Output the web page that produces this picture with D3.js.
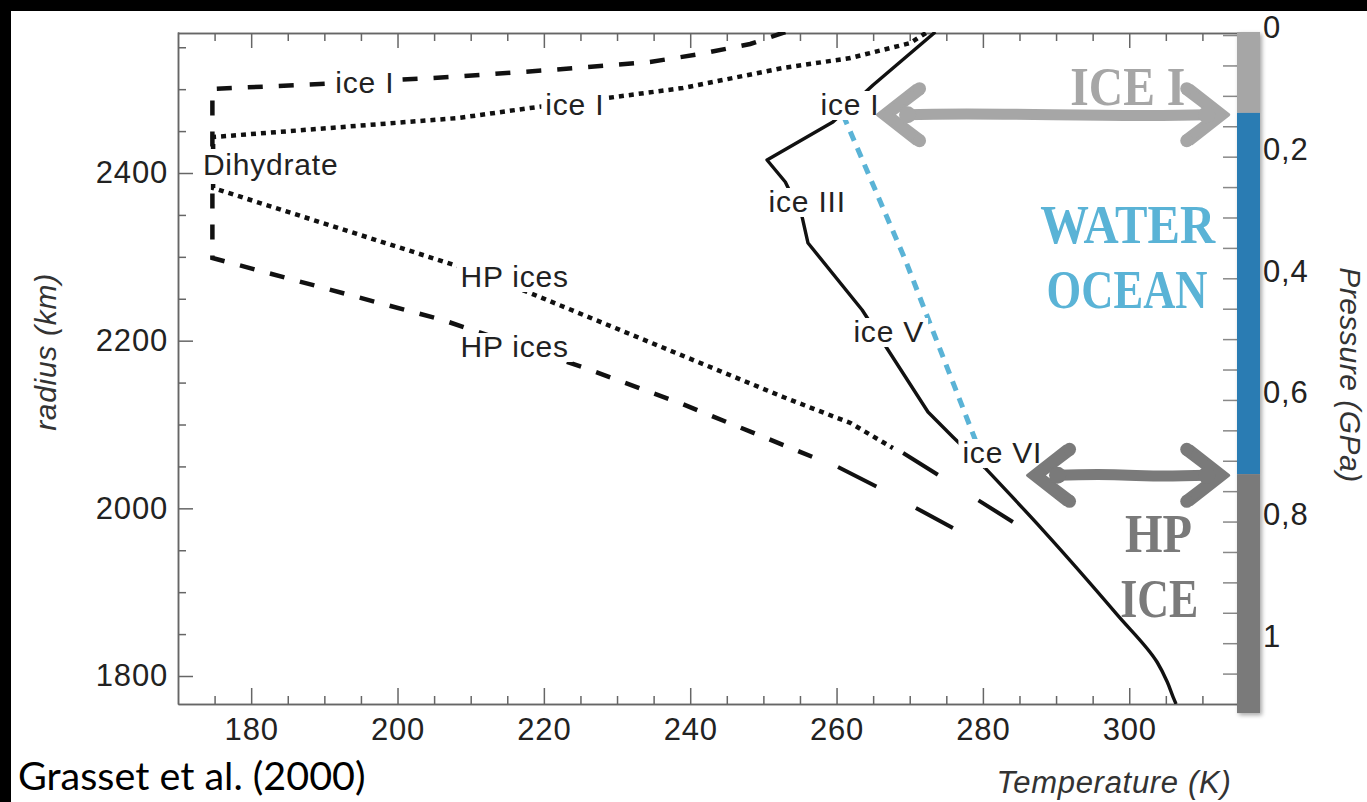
<!DOCTYPE html>
<html><head><meta charset="utf-8">
<script src="https://cdn.jsdelivr.net/npm/d3@7"></script>
<style>
html,body{margin:0;padding:0;background:#fff;}
svg{display:block;}
</style></head><body>
<svg id="chart" width="1367" height="802"></svg>
<script>
// ---------- data ----------
const tempTicks = [180, 200, 220, 240, 260, 280, 300];
const radiusTicks = [1800, 2000, 2200, 2400];
const pressureTicks = [0, 0.2, 0.4, 0.6, 0.8, 1];
const pressureTickLabels = ["0", "0,2", "0,4", "0,6", "0,8", "1"];

// melting curve of pure water ice (solid line) [T (K), radius (km)] - upper (angular) part
const meltingCurveUpper = [[273.5,2568.2],[265.0,2505.0],[259.5,2460.8],[250.5,2415.5],[253.0,2389.3],
  [255.3,2347.5],[256.1,2316.5],[263.5,2236.6],[266.6,2194.8],[272.5,2114.9],[275.9,2085.1],
  [280.3,2048.1]];
// lower (smooth) part
const meltingCurveLower = [[280.3,2048.1],[288.2,1974.1],[298.4,1872.7],[303.8,1816.7],
  [305.2,1792.8],[306.0,1774.9],[306.4,1766.6]];
// dashed profile
const dashedProfile = [[253.0,2568.2],[248.2,2553.9],[241.4,2542.0],[234.5,2532.4],[220.9,2522.9],
  [207.2,2514.5],[189.4,2506.2],[174.7,2500.2],[174.7,2298.6],[206.2,2224.6],[225.6,2167.4],
  [238.6,2125.6],[257.1,2060.0]];
const dashedTail = [[260.2,2049.3],[265.6,2025.4],[275.9,1976.5]];
// dotted profile
const dottedProfile = [[272.2,2567.0],[270.1,2555.1],[261.9,2537.2],[252.7,2525.3],[239.0,2501.4],
  [228.7,2489.5],[218.1,2477.5],[208.3,2465.6],[174.8,2442.9],[174.8,2382.1],[208.6,2287.9],
  [218.1,2256.9],[252.7,2132.8],[261.9,2101.8],[267.7,2071.9]];
const dottedTail = [[269.1,2066.0],[273.9,2039.7],[284.1,1983.7]];
// ocean adiabat (blue dotted)
const oceanAdiabat = [[260.9,2469.2],[269.4,2296.2],[279.6,2067.3]];

// phase labels [text, T, radius] (left x / baseline)
const phaseLabelText = ["ice I","ice I","Dihydrate","HP ices","HP ices","ice I","ice III","ice V","ice VI"];
const phaseLabelT    = [191.5, 220.2, 173.4, 208.6, 208.6, 257.8, 250.7, 262.3, 277.2];
const phaseLabelR    = [2495.4, 2469.2, 2397.6, 2264.0, 2180.5, 2469.2, 2353.5, 2198.4, 2054.1];

// pressure column layers [from GPa, to GPa]
const layerNamesKey = ["ice", "water", "hp"];
const layerFrom = [-0.005, 0.128, 0.722];
const layerTo   = [0.128, 0.722, 1.115];

// layer captions [text, centre T, baseline P, layer]
const captionText  = ["ICE I", "WATER", "OCEAN", "HP", "ICE"];
const captionT     = [299.8, 299.8, 299.7, 304.0, 304.1];
const captionP     = [0.115, 0.342, 0.449, 0.850, 0.957];
const captionLayer = ["ice", "water", "water", "hp", "hp"];

// double arrows at layer boundaries [P, T left tip, T right tip, layer]
const arrowP = [0.131, 0.724];
const arrowT0 = [265.6, 286.1];
const arrowT1 = [313.6, 313.6];
const arrowLayer = ["ice", "hp"];

// ---------- styles ----------
const layerColor = {ice: "#a6a6a6", water: "#2b7bb3", hp: "#7a7a7a"};
const captionColor = {ice: "#a6a6a6", water: "#5ab3d6", hp: "#7a7a7a"};
const captionWidth = [115, 175, 161, 67, 78];
const font = "'Liberation Sans', Arial, Helvetica, sans-serif";

// ---------- scales ----------
const W = 1367, H = 802;
const x = d3.scaleLinear().domain([170, 315]).range([178, 1239]);
const y = d3.scaleLinear().domain([1766.6, 2568.2]).range([704, 32]);
const p = d3.scaleLinear().domain([-0.005, 1.1]).range([32, 704]);

const svg = d3.select("#chart");
svg.append("rect").attr("width", W).attr("height", H).attr("fill", "#fff");

const defs = svg.append("defs");
defs.append("clipPath").attr("id", "plotclip").append("rect")
  .attr("x", 178).attr("y", 32).attr("width", 1061).attr("height", 672);
const sh = defs.append("filter").attr("id", "shadow").attr("x", "-50%").attr("y", "-5%").attr("width", "200%").attr("height", "110%");
sh.append("feDropShadow").attr("dx", 2).attr("dy", 2).attr("stdDeviation", 2).attr("flood-color", "#000").attr("flood-opacity", 0.35);

// ---------- axes ----------
function styleAxis(g) {
  g.selectAll(".domain").attr("stroke", "#666").attr("stroke-width", 1.5);
  g.selectAll(".tick line").attr("stroke", "#666").attr("stroke-width", 1.5);
  g.selectAll("text").attr("font-family", font).attr("font-size", 31).attr("fill", "#222").attr("letter-spacing", "0.8px");
}
const minorT = d3.range(175, 315, 5).filter(v => !tempTicks.includes(v));
const minorR = d3.range(1800, 2568, 50).filter(v => !radiusTicks.includes(v));

// bottom
const gB = svg.append("g").attr("transform", `translate(0,${y.range()[0]})`)
  .call(d3.axisBottom(x).tickValues(tempTicks).tickSizeInner(-16).tickSizeOuter(0).tickPadding(14).tickFormat(d3.format("d")));
styleAxis(gB);
gB.selectAll("text").attr("dy", "0.71em");
svg.append("g").attr("transform", `translate(0,${y.range()[0]})`)
  .call(d3.axisBottom(x).tickValues(minorT).tickSizeInner(-8).tickSizeOuter(0).tickFormat(""))
  .call(styleAxis);
// top
svg.append("g").attr("transform", `translate(0,33)`)
  .call(d3.axisTop(x).tickValues(tempTicks).tickSizeInner(-15).tickSizeOuter(0).tickFormat(""))
  .call(styleAxis);
svg.append("g").attr("transform", `translate(0,33)`)
  .call(d3.axisTop(x).tickValues(minorT).tickSizeInner(-8).tickSizeOuter(0).tickFormat(""))
  .call(styleAxis);
// left
const gL = svg.append("g").attr("transform", `translate(${x.range()[0]},0)`)
  .call(d3.axisLeft(y).tickValues(radiusTicks).tickSizeInner(-15).tickSizeOuter(0).tickPadding(10).tickFormat(d3.format("d")));
styleAxis(gL);
svg.append("g").attr("transform", `translate(${x.range()[0]},0)`)
  .call(d3.axisLeft(y).tickValues(minorR).tickSizeInner(-8).tickSizeOuter(0).tickFormat(""))
  .call(styleAxis);
// right (pressure)
const minorP = d3.range(0.05, 1.1, 0.05).filter(v => !pressureTicks.some(t => Math.abs(t - v) < 1e-6));
const gR = svg.append("g").attr("transform", `translate(1237,0)`)
  .call(d3.axisRight(p).tickValues(pressureTicks).tickSizeInner(-14).tickSizeOuter(0).tickPadding(26)
    .tickFormat((d, i) => pressureTickLabels[i]));
styleAxis(gR);
gR.select(".domain").remove();
gR.selectAll(".tick line").attr("stroke", "#888");
gR.selectAll("text").attr("y", -7);
const gR2 = svg.append("g").attr("transform", `translate(1237,0)`)
  .call(d3.axisRight(p).tickValues(minorP).tickSizeInner(-14).tickSizeOuter(0).tickFormat(""));
styleAxis(gR2);
gR2.select(".domain").remove();
gR2.selectAll(".tick line").attr("stroke", "#888");

// ---------- curves ----------
const line = d3.line().x(d => x(d[0])).y(d => y(d[1]));
const smooth = d3.line().x(d => x(d[0])).y(d => y(d[1])).curve(d3.curveMonotoneY);
const plot = svg.append("g").attr("clip-path", "url(#plotclip)");
plot.append("path").datum(dashedProfile).attr("d", line).attr("fill", "none")
  .attr("stroke", "#111").attr("stroke-width", 4.5).attr("stroke-dasharray", "15,16");
plot.append("path").datum(dashedTail).attr("d", line).attr("fill", "none")
  .attr("stroke", "#111").attr("stroke-width", 4).attr("stroke-dasharray", "43,45");
plot.append("path").datum(dottedProfile).attr("d", line).attr("fill", "none")
  .attr("stroke", "#111").attr("stroke-width", 4.5).attr("stroke-dasharray", "5,5");
plot.append("path").datum(dottedTail).attr("d", line).attr("fill", "none")
  .attr("stroke", "#111").attr("stroke-width", 4).attr("stroke-dasharray", "41,48");
plot.append("path").datum(meltingCurveUpper).attr("d", line).attr("fill", "none")
  .attr("stroke", "#111").attr("stroke-width", 3.4).attr("stroke-linejoin", "round");
plot.append("path").datum(meltingCurveLower).attr("d", smooth).attr("fill", "none")
  .attr("stroke", "#111").attr("stroke-width", 3.4).attr("stroke-linejoin", "round");

// ---------- phase labels with white masks ----------
const labG = svg.append("g");
phaseLabelText.forEach((t, i) => {
  const g = labG.append("g");
  const txt = g.append("text").attr("x", x(phaseLabelT[i])).attr("y", y(phaseLabelR[i]))
    .attr("font-family", font).attr("font-size", 30).attr("letter-spacing", "0.8px")
    .attr("fill", "#222").text(t);
  const b = txt.node().getBBox();
  g.insert("rect", "text").attr("x", b.x - 4).attr("y", b.y + 3).attr("width", b.width + 8)
    .attr("height", b.height - 4).attr("fill", "#fff");
});

// ocean adiabat
plot.append("path").datum(oceanAdiabat).attr("d", line).attr("fill", "none")
  .attr("stroke", "#5ab3d6").attr("stroke-width", 5).attr("stroke-dasharray", "10,8");

// ---------- pressure column ----------
const bar = svg.append("g").attr("filter", "url(#shadow)");
layerNamesKey.forEach((k, i) => {
  bar.append("rect").attr("x", 1237).attr("width", 23)
    .attr("y", p(layerFrom[i])).attr("height", p(layerTo[i]) - p(layerFrom[i]))
    .attr("fill", layerColor[k]);
});

// ---------- captions ----------
captionText.forEach((t, i) => {
  svg.append("text").attr("x", x(captionT[i])).attr("y", p(captionP[i]))
    .attr("text-anchor", "middle").attr("font-family", "'Liberation Serif', 'DejaVu Serif', serif")
    .attr("font-weight", "bold").attr("font-size", 54)
    .attr("textLength", captionWidth[i]).attr("lengthAdjust", "spacingAndGlyphs")
    .attr("fill", captionColor[captionLayer[i]]).text(t);
});

// ---------- arrows ----------
function headPath(tx, ty, dir) {
  // dir = +1 head pointing left (body to the right), -1 pointing right
  const pts = [[0,0],[37,-29],[45,-22],[16,0],[45,22],[37,29]]
    .map(q => [tx + dir * q[0], ty + q[1]]);
  return "M" + pts.map(q => q.join(",")).join("L") + "Z";
}
arrowP.forEach((pv, i) => {
  const c = layerColor[arrowLayer[i]];
  const yy = p(pv), xl = x(arrowT0[i]), xr = x(arrowT1[i]);
  const g = svg.append("g").attr("fill", c).attr("stroke", c);
  g.append("path").attr("d", headPath(xl, yy, 1)).attr("stroke-width", 3).attr("stroke-linejoin", "round");
  g.append("path").attr("d", headPath(xr, yy, -1)).attr("stroke-width", 3).attr("stroke-linejoin", "round");
  g.append("path").attr("d", `M${xl + 30},${yy} C${xl + 120},${yy - 3} ${xr - 120},${yy + 3} ${xr - 22},${yy}`)
    .attr("fill", "none").attr("stroke-width", 11).attr("stroke-linecap", "round");
  [[xl + 30, yy, 8.5], [xr - 22, yy, 8.5], [xl + 42, yy - 26, 6.5], [xl + 42, yy + 26, 6.5], [xr - 42, yy - 26, 6.5], [xr - 42, yy + 26, 6.5]]
    .forEach(pt => g.append("circle").attr("cx", pt[0]).attr("cy", pt[1]).attr("r", pt[2]).attr("stroke", "none"));
});

// ---------- axis titles ----------
svg.append("text").attr("transform", `translate(45,352) rotate(-90)`)
  .attr("text-anchor", "middle").attr("dominant-baseline", "central")
  .attr("font-family", font).attr("font-style", "italic").attr("font-size", 30)
  .attr("letter-spacing", "0.7px").attr("fill", "#333").text("radius (km)");
svg.append("text").attr("x", 1114).attr("y", 793)
  .attr("text-anchor", "middle")
  .attr("font-family", font).attr("font-style", "italic").attr("font-size", 31)
  .attr("letter-spacing", "0.7px").attr("fill", "#333").text("Temperature (K)");
svg.append("text").attr("transform", `translate(1350,375) rotate(90)`)
  .attr("text-anchor", "middle").attr("dominant-baseline", "central")
  .attr("font-family", font).attr("font-style", "italic").attr("font-size", 30)
  .attr("letter-spacing", "0.5px").attr("fill", "#333").text("Pressure (GPa)");

// source
svg.append("text").attr("x", 18).attr("y", 790)
  .attr("font-family", "Lato, 'Open Sans', sans-serif").attr("font-size", 39.5)
  .attr("fill", "#000").text("Grasset et al. (2000)");

// black frame bands
svg.append("rect").attr("x", 0).attr("y", 0).attr("width", W).attr("height", 11).attr("fill", "#000");
svg.append("rect").attr("x", 0).attr("y", 0).attr("width", 11).attr("height", H).attr("fill", "#000");
</script>
</body></html>
